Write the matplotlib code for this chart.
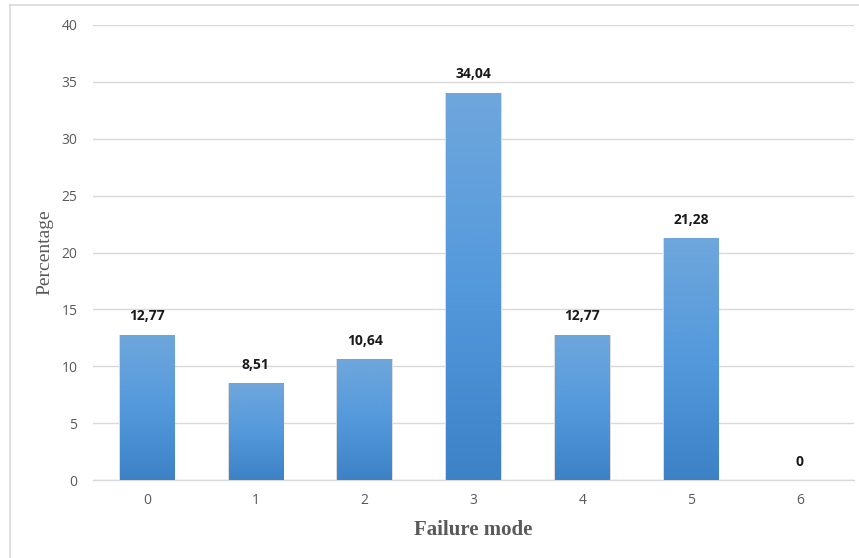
import matplotlib
matplotlib.use("Agg")
import matplotlib.pyplot as plt
import numpy as np
from matplotlib.lines import Line2D
from matplotlib.colors import LinearSegmentedColormap

categories = ["0", "1", "2", "3", "4", "5", "6"]
values = [12.77, 8.51, 10.64, 34.04, 12.77, 21.28, 0]
labels = ["12,77", "8,51", "10,64", "34,04", "12,77", "21,28", "0"]
yticks = [0, 5, 10, 15, 20, 25, 30, 35, 40]

W, H = 859, 558
fig = plt.figure(figsize=(W / 100, H / 100), dpi=100)
ax = fig.add_axes([92.6 / W, 1 - 480 / H, (854.4 - 92.6) / W, (480 - 25) / H])

x = np.arange(len(categories))
bw = 0.5
cmap = LinearSegmentedColormap.from_list("g", ["#3d82c6", "#5499dc", "#6fa7dc"])
grad = np.linspace(0, 1, 256).reshape(-1, 1)

bars = ax.bar(x, values, width=bw, color="none", edgecolor="none", zorder=3)
for xi, v, b in zip(x, values, bars):
    if v <= 0:
        continue
    ax.add_patch(plt.Rectangle((xi - bw / 2 - 0.01, 0), bw + 0.02, v,
                               facecolor="#dcdcdc", edgecolor="none", zorder=2.5))
    im = ax.imshow(grad, extent=(xi - bw / 2, xi + bw / 2, 0, v), origin="lower",
                   cmap=cmap, aspect="auto", zorder=3, interpolation="bicubic")
    im.set_clip_path(b)

for xi, v, lab in zip(x, values, labels):
    ax.text(xi, v + 1.0, lab, ha="center", va="bottom", fontsize=10,
            fontweight="bold", color="#1a1a1a", family="Open Sans")

ax.set_xlim(-0.5, len(categories) - 0.5)
ax.set_ylim(0, 40)
ax.set_yticks(yticks)
ax.set_yticklabels([str(t) for t in yticks])
ax.set_xticks(x)
ax.set_xticklabels(categories)
ax.grid(axis="y", color="#d9d9d9", linewidth=1.0, zorder=0)
ax.set_axisbelow(True)
for s in ["top", "right", "left"]:
    ax.spines[s].set_visible(False)
ax.spines["bottom"].set_color("#d9d9d9")
ax.spines["bottom"].set_linewidth(1.0)
ax.tick_params(axis="both", length=0, labelsize=10, labelcolor="#595959")
ax.tick_params(axis="y", pad=11)
ax.tick_params(axis="x", pad=9)
for t in ax.get_xticklabels() + ax.get_yticklabels():
    t.set_family("Open Sans")

ax.set_xlabel("Failure mode", fontsize=15, fontweight="bold", color="#595959",
              family="Liberation Serif")
ax.set_ylabel("Percentage", fontsize=14, color="#595959",
              family="Liberation Serif")
ax.yaxis.set_label_coords((45 - 92.6) / 761.8, 0.5)
ax.xaxis.set_label_coords(0.5, (480 - 530) / 455)
ax.xaxis.label.set_va("center")
ax.yaxis.label.set_va("center")

# outer chart border
fig.add_artist(Line2D([10 / W, 10 / W], [0, 1 - 5 / H], transform=fig.transFigure,
                      color="#d9d9d9", linewidth=1.2))
fig.add_artist(Line2D([10 / W, 1], [1 - 5 / H, 1 - 5 / H], transform=fig.transFigure,
                      color="#d9d9d9", linewidth=1.2))

fig.savefig("out.png", dpi=100)
